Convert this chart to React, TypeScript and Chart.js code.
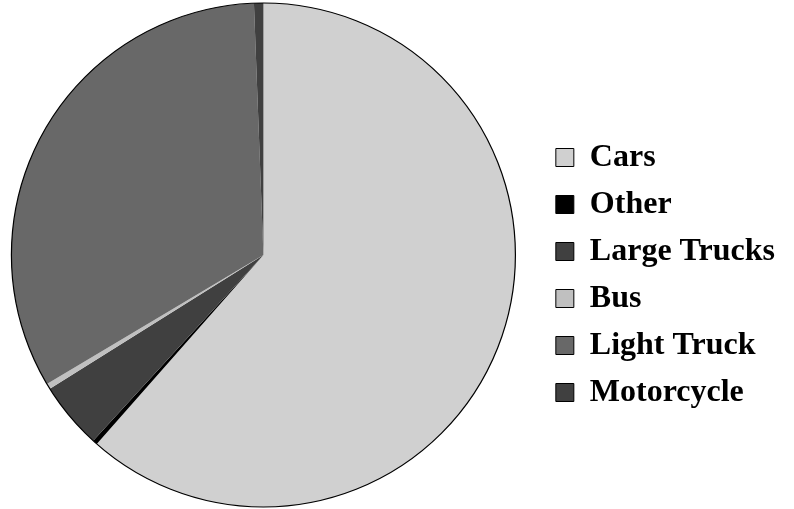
import React, { useEffect, useRef } from "react";
import { Chart, registerables } from "chart.js";

Chart.register(...registerables);

const categories = ["Cars", "Other", "Large Trucks", "Bus", "Light Truck", "Motorcycle"];
const shares = [61.6, 0.3, 4.3, 0.36, 33.0, 0.6];
const sliceColors = ["#d0d0d0", "#000000", "#404040", "#c0c0c0", "#686868", "#404040"];

const outlinePlugin = {
  id: "outline",
  afterDatasetsDraw(chart: any) {
    const meta = chart.getDatasetMeta(0);
    const arc = meta.data[0];
    if (!arc) return;
    const { x, y, outerRadius } = arc.getProps(["x", "y", "outerRadius"], true);
    const ctx = chart.ctx;
    ctx.save();
    ctx.beginPath();
    ctx.arc(x, y, outerRadius, 0, Math.PI * 2);
    ctx.strokeStyle = "#000";
    ctx.lineWidth = 1.2;
    ctx.stroke();
    ctx.restore();
  },
};

const SHIFT = 14;

export default function App() {
  const ref = useRef<HTMLCanvasElement>(null);
  useEffect(() => {
    if (!ref.current) return;
    const chart = new Chart(ref.current, {
      type: "pie",
      data: {
        labels: categories,
        datasets: [
          {
            data: shares,
            backgroundColor: sliceColors,
            borderWidth: 0,
          },
        ],
      },
      options: {
        animation: false,
        responsive: true,
        maintainAspectRatio: false,
        color: "#000",
        layout: { padding: { top: 3, bottom: 2, left: 0, right: 9 } },
        plugins: {
          tooltip: { enabled: false },
          legend: {
            position: "right",
            align: "center",
            title: {
              display: true,
              text: " ",
              color: "#000",
              font: { size: 10 },
              padding: { top: 28, bottom: 0 },
            },
            labels: {
              boxWidth: 18,
              boxHeight: 18,
              padding: 15,
              color: "#000",
              font: { family: "'Liberation Serif', 'Times New Roman', serif", size: 32, weight: "bold" },
              generateLabels: () =>
                categories.map((name, i) => ({
                  text: name,
                  fillStyle: sliceColors[i],
                  strokeStyle: "#000",
                  fontColor: "#000",
                  lineWidth: 1,
                  hidden: false,
                  index: i,
                  datasetIndex: 0,
                })),
            },
          },
        },
      },
      plugins: [outlinePlugin],
    });
    return () => chart.destroy();
  }, []);
  return (
    <div
      style={{
        position: "fixed",
        left: -SHIFT,
        top: 0,
        width: 794 + SHIFT,
        height: 509,
        background: "#fff",
      }}
    >
      <canvas ref={ref} />
    </div>
  );
}
